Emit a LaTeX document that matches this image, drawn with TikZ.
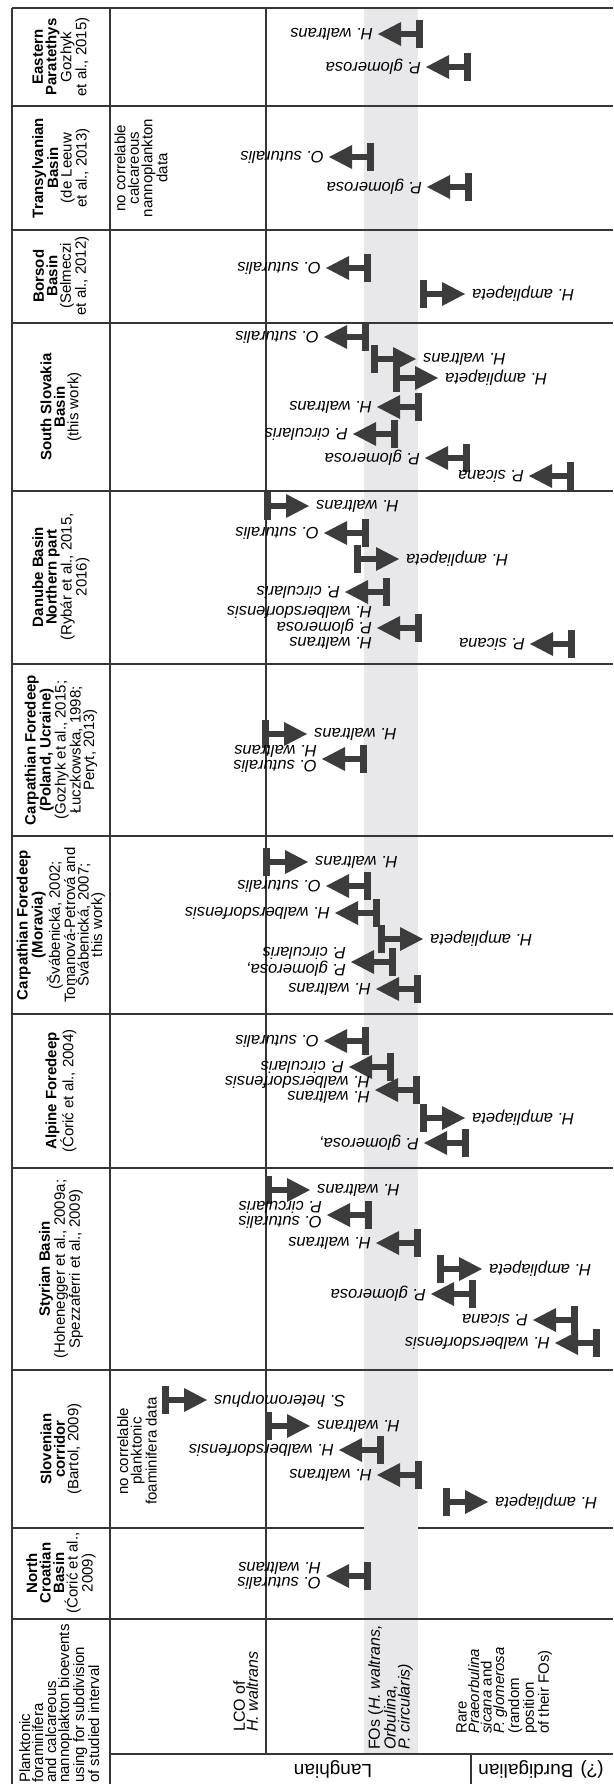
\documentclass[tikz,border=0pt]{standalone}
\usepackage{fontspec}
\setmainfont{Liberation Sans}

\definecolor{gridline}{HTML}{363636}
\definecolor{markgray}{HTML}{3C3C3C}
\definecolor{bandgray}{HTML}{E8E8EB}

\newcommand{\hdsize}{\fontsize{15}{13.5}\selectfont}
\newcommand{\spsize}{\fontsize{16.5}{15}\selectfont}
\newcommand{\lgsize}{\fontsize{19}{20}\selectfont}

% FO marker pointing left (bar edge x, centre y, label)
\newcommand{\foleft}[3]{%
  \fill[fomark] ({#1-7},{#2-14}) rectangle (#1,{#2+14});
  \fill[fomark] ({#1-22},{#2-3}) rectangle ({#1-7},{#2+3});
  \fill[fomark] ({#1-22},{#2-12}) -- ({#1-22},{#2+12}) -- ({#1-45},#2) -- cycle;
  \node[folabel, anchor=west] at ({#1-50},#2) {#3};}

% FO marker pointing right (bar edge x, centre y, label)
\newcommand{\foright}[3]{%
  \fill[fomark] (#1,{#2-14}) rectangle ({#1+7},{#2+14});
  \fill[fomark] ({#1+7},{#2-3}) rectangle ({#1+22},{#2+3});
  \fill[fomark] ({#1+22},{#2-12}) -- ({#1+22},{#2+12}) -- ({#1+45},#2) -- cycle;
  \node[folabel, anchor=east] at ({#1+52},#2) {#3};}

\begin{document}
\begin{tikzpicture}[x=1pt, y=-1pt,
    grid/.style={draw=gridline, line width=1.6pt},
    fomark/.style={fill=markgray},
    folabel/.style={font=\spsize\itshape, rotate=180, inner sep=0pt, align=left},
    basin/.style={font=\hdsize, rotate=90, align=center, inner sep=0pt},
    zone/.style={rotate=90, align=left, inner sep=0pt, anchor=north west},
    stage/.style={font=\lgsize, rotate=180, inner sep=0pt}]

    % Page
    \useasboundingbox (0,0) rectangle (613,1784);
    \fill[white] (0,0) rectangle (613,1784);

    % Grey band of the FOs
    \fill[bandgray] (364,8) rectangle (418,1754);

    % Outer lines
    \draw[grid] (12,8) -- (613,8);
    \draw[grid] (12,8) -- (12,1784);
    \draw[grid] (110,8) -- (110,1784);
    \draw[grid] (266,8) -- (266,1754);

    % Row lines
    \draw[grid] (12,106) -- (613,106);
    \draw[grid] (12,230) -- (613,230);
    \draw[grid] (12,323) -- (613,323);
    \draw[grid] (12,491) -- (613,491);
    \draw[grid] (12,664) -- (613,664);
    \draw[grid] (12,836) -- (613,836);
    \draw[grid] (12,1014) -- (613,1014);
    \draw[grid] (12,1168) -- (613,1168);
    \draw[grid] (12,1370) -- (613,1370);
    \draw[grid] (12,1528) -- (364,1528);
    \draw[grid] (418,1528) -- (613,1528);
    \draw[grid] (12,1619) -- (613,1619);

    % Stage row
    \draw[grid] (110,1754) -- (613,1754);
    \draw[grid] (471,1754) -- (471,1784);

    % Basins
    \node[basin] at (61,57) {\textbf{Eastern}\\\textbf{Paratethys}\\Gozhyk\\et al., 2015)};
    \node[basin] at (61,168) {\textbf{Transylvanian}\\\textbf{Basin}\\(de Leeuw\\et al., 2013)};
    \node[basin] at (61,276) {\textbf{Borsod}\\\textbf{Basin}\\(Selmeczi\\et al., 2012)};
    \node[basin] at (61,407) {\textbf{South Slovakia}\\\textbf{Basin}\\(this work)};
    \node[basin] at (61,577) {\textbf{Danube Basin}\\\textbf{Northern part}\\(Rybár et al., 2015,\\2016)};
    \node[basin] at (61,750) {\textbf{Carpathian Foredeep}\\\textbf{(Poland, Ucraine)}\\(Gozhyk et al., 2015;\\Łuczkowska, 1998;\\Peryt, 2013)};
    \node[basin] at (61,925) {\textbf{Carpathian Foredeep}\\\textbf{(Moravia)}\\(Švábenická, 2002;\\Tomanová-Petrová and\\Švábenická, 2007;\\this work)};
    \node[basin] at (61,1091) {\textbf{Alpine Foredeep}\\(Ćorić et al., 2004)};
    \node[basin] at (61,1269) {\textbf{Styrian Basin}\\(Hohenegger et al., 2009a;\\Spezzaferri et al., 2009)};
    \node[basin] at (61,1449) {\textbf{Slovenian}\\\textbf{corridor}\\(Bartol, 2009)};
    \node[basin] at (61,1573) {\textbf{North}\\\textbf{Croatian}\\\textbf{Basin}\\(Ćorić et al.,\\2009)};

    % Missing data notes
    \node[basin] at (141,168) {no correlable\\calcareous\\nannoplankton\\data};
    \node[basin] at (137,1451) {no correlable\\planktonic\\foaminifera data};

    % Eastern Paratethys
    \foleft{423}{34}{H. waltrans}
    \foleft{471}{67}{P. glomerosa}

    % Transylvanian Basin
    \foleft{374}{157}{O. suturalis}
    \foleft{472}{187}{P. glomerosa}

    % Borsod Basin
    \foleft{371}{268}{O. suturalis}
    \foright{420}{294}{H. ampliapeta}

    % South Slovakia Basin
    \foleft{369}{337}{O. suturalis}
    \foright{371}{359}{H. waltrans}
    \foright{393}{378}{H. ampliapeta}
    \foleft{422}{407}{H. waltrans}
    \foleft{398}{434}{P. circularis}
    \foleft{470}{458}{P. glomerosa}
    \foleft{574}{476}{P. sicana}

    % Danube Basin
    \foright{264}{506}{H. waltrans}
    \foleft{369}{533}{O. suturalis}
    \foright{354}{559}{H. ampliapeta}
    \foleft{390}{592}{P. circularis}
    \foleft{422}{628}{H. waltrans\\P. glomerosa\\H. walbersdorfensis}
    \foleft{575}{644}{P. sicana}

    % Carpathian Foredeep, Poland and Ucraine
    \foright{262}{734}{H. waltrans}
    \foleft{367}{759}{O. suturalis\\H. waltrans}

    % Carpathian Foredeep, Moravia
    \foright{263}{862}{H. waltrans}
    \foleft{371}{886}{O. suturalis}
    \foleft{380}{913}{H. walbersdorfensis}
    \foright{378}{939}{H. ampliapeta}
    \foleft{396}{962}{P. glomerosa,\\P. circularis}
    \foleft{421}{989}{H. waltrans}

    % Alpine Foredeep
    \foleft{369}{1041}{O. suturalis}
    \foleft{394}{1067}{P. circularis}
    \foleft{420}{1090}{H. waltrans\\H. walbersdorfensis}
    \foright{420}{1118}{H. ampliapeta}
    \foleft{469}{1143}{P. glomerosa,}

    % Styrian Basin
    \foright{265}{1190}{H. waltrans}
    \foleft{372}{1215}{O. suturalis\\P. circularis}
    \foleft{421}{1243}{H. waltrans}
    \foright{437}{1269}{H. ampliapeta}
    \foleft{476}{1294}{P. glomerosa}
    \foleft{578}{1320}{P. sicana}
    \foleft{600}{1343}{H. walbersdorfensis}

    % Slovenian corridor
    \foright{162}{1400}{S. heteromorphus}
    \foright{265}{1426}{H. waltrans}
    \foleft{384}{1450}{H. walbersdorfensis}
    \foleft{422}{1475}{H. waltrans}
    \foright{443}{1502}{H. ampliapeta}

    % North Croatian Basin
    \foleft{371}{1576}{O. suturalis\\H. waltrans}

    % Bioevents row
    \node[zone, font=\fontsize{15}{13}\selectfont] at (19,1783) {Planktonic\\foraminifera\\and calcareous\\nannoplakton bioevents\\using for subdivision\\of studied interval};
    \node[zone, font=\fontsize{16}{13}\selectfont] at (233,1732) {LCO of\\\textit{H. waltrans}};
    \node[zone, font=\fontsize{16}{14}\selectfont] at (368,1750) {FOs (\textit{H. waltrans,}\\\textit{Orbulina,}\\\textit{P. circularis)}};
    \node[zone, font=\fontsize{15}{12.5}\selectfont] at (456,1734) {Rare\\\textit{Praeorbulina}\\\textit{sicana} and\\\textit{P. glomerosa}\\(random\\position\\of their FOs)};

    % Stages
    \node[stage] at (333,1769) {Langhian};
    \node[stage] at (541,1769) {(?) Burdigalian};
\end{tikzpicture}
\end{document}
